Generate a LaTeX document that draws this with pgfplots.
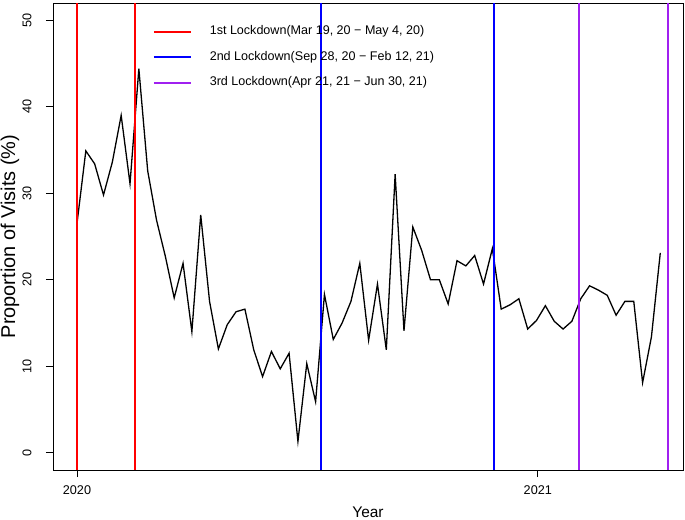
\documentclass[border=0pt]{standalone}
\usepackage{pgfplots}
\pgfplotsset{compat=1.18}
\usepackage{fontspec}
\setmainfont{Liberation Sans}
\definecolor{rred}{HTML}{FF0000}
\definecolor{rblue}{HTML}{0000FF}
\definecolor{rpurple}{HTML}{A020F0}
\pgfplotsset{vl/.style={draw=#1, line width=2bp}}
\begin{document}
\begin{tikzpicture}
\begin{axis}[
 scale only axis, width=630bp, height=467bp,
 xmin=-19, xmax=480, ymin=-2, ymax=52,
 xtick={0,365}, xticklabels={2020,2021},
 ytick={0,10,20,30,40,50},
 xtick pos=bottom, ytick pos=left,
 tick align=outside, major tick length=7bp,
 tick style={draw=black, line width=0.8bp},
 axis line style={draw=black, line width=0.8bp},
 /pgf/number format/assume math mode=true,
 ticklabel style={font=\fontsize{12.7}{14}\selectfont},
 yticklabel style={rotate=90, anchor=south, yshift=11bp},
 xticklabel style={yshift=-5bp},
 xlabel={Year}, ylabel={Proportion of Visits (\%)},
 xlabel style={font=\fontsize{15.5}{18}\selectfont, at={(axis description cs:0.5,0)}, anchor=center, yshift=-42bp},
 ylabel style={font=\fontsize{20}{22}\selectfont, at={(axis description cs:0,0.5)}, anchor=center, yshift=43bp},
 legend style={draw=none, fill=none, at={(rel axis cs:0.1587,0.951)}, anchor=north west,
   inner sep=0pt, outer sep=0pt, row sep=13.5bp,
   nodes={inner sep=0pt, text height=9bp, text depth=3bp, anchor=west, font=\fontsize{12.6}{14}\selectfont},
   /tikz/every odd column/.append style={column sep=18bp}},
 legend cell align=left,
 legend image code/.code={\draw[#1] (0bp,0bp) -- (37bp,0bp);},
]
\addplot[draw=black, line width=1.3bp, forget plot] table[x expr=7*\thisrow{i}, y=v] {
i v
0 26.5
1 34.9
2 33.4
3 29.8
4 33.6
5 39.0
6 31.1
7 44.4
8 32.6
9 26.9
10 22.7
11 17.9
12 21.9
13 14.0
14 27.5
15 17.5
16 12.0
17 14.8
18 16.3
19 16.6
20 11.9
21 8.8
22 11.7
23 9.7
24 11.5
25 1.3
26 10.3
27 5.9
28 18.3
29 13.1
30 15.0
31 17.5
32 21.9
33 13.0
34 19.5
35 11.9
36 32.2
37 14.1
38 26.1
39 23.4
40 20.0
41 20.0
42 17.2
43 22.2
44 21.6
45 22.8
46 19.5
47 23.6
48 16.6
49 17.1
50 17.8
51 14.3
52 15.3
53 17.0
54 15.2
55 14.3
56 15.2
57 17.8
58 19.3
59 18.8
60 18.2
61 15.9
62 17.5
63 17.5
64 8.1
65 13.4
66 23.1
};
\addplot[vl=rred, forget plot] coordinates {(0,-2) (0,52)};
\addplot[vl=rred, forget plot] coordinates {(46,-2) (46,52)};
\addplot[vl=rblue, forget plot] coordinates {(193,-2) (193,52)};
\addplot[vl=rblue, forget plot] coordinates {(330,-2) (330,52)};
\addplot[vl=rpurple, forget plot] coordinates {(398,-2) (398,52)};
\addplot[vl=rpurple, forget plot] coordinates {(468,-2) (468,52)};
\addlegendimage{draw=rred, line width=1.8bp}
\addlegendentry{1st Lockdown(Mar 19, 20 − May 4, 20)}
\addlegendimage{draw=rblue, line width=1.8bp}
\addlegendentry{2nd Lockdown(Sep 28, 20 − Feb 12, 21)}
\addlegendimage{draw=rpurple, line width=1.8bp}
\addlegendentry{3rd Lockdown(Apr 21, 21 − Jun 30, 21)}
\coordinate (bl) at (rel axis cs:0,0);
\coordinate (tr) at (rel axis cs:1,1);
\end{axis}
\pgfresetboundingbox
\path[use as bounding box] ([xshift=-53bp,yshift=-50bp]bl) rectangle ([xshift=2bp,yshift=3bp]tr);
\end{tikzpicture}
\end{document}
